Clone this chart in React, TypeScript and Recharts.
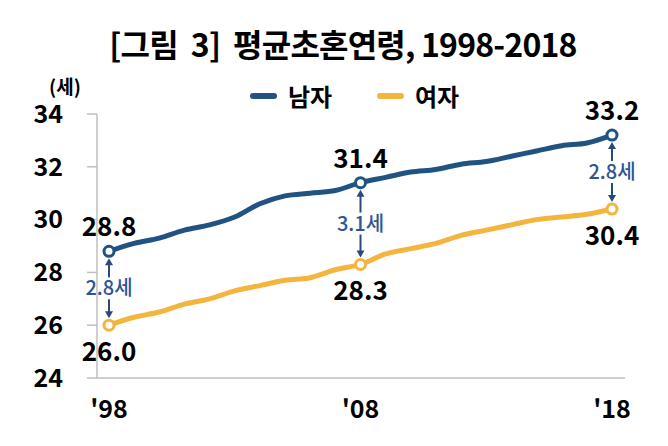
import React from 'react';
import { LineChart, Line, XAxis, YAxis, Legend, ReferenceLine, LabelList } from 'recharts';

const years = [1998, 1999, 2000, 2001, 2002, 2003, 2004, 2005, 2006, 2007, 2008, 2009, 2010, 2011, 2012, 2013, 2014, 2015, 2016, 2017, 2018];
const maleAge = [28.8, 29.1, 29.3, 29.6, 29.8, 30.1, 30.6, 30.9, 31.0, 31.1, 31.4, 31.6, 31.8, 31.9, 32.1, 32.2, 32.4, 32.6, 32.8, 32.9, 33.2];
const femaleAge = [26.0, 26.3, 26.5, 26.8, 27.0, 27.3, 27.5, 27.7, 27.8, 28.1, 28.3, 28.7, 28.9, 29.1, 29.4, 29.6, 29.8, 30.0, 30.1, 30.2, 30.4];
const markedYears = [1998, 2008, 2018];
const xTicks = [1998, 2008, 2018];
const xTickLabels = ["'98", "'08", "'18"];
const yTicks = [24, 26, 28, 30, 32, 34];
const seriesNames = ['남자', '여자'];
const titleText = '[그림  3]  평균초혼연령, 1998-2018';
const unitText = '(세)';
const unitSuffix = '세';

const MALE_COLOR = '#215382';
const FEMALE_COLOR = '#f4b53f';
const GAP_COLOR = '#2f5597';
const FONT = '"Noto Sans CJK KR", "Noto Sans", sans-serif';

const data = years.map((y, i) => ({ year: y, male: maleAge[i], female: femaleAge[i] }));

const makeDot = (color: string) => (props: any) => {
  const { cx, cy, payload, index } = props;
  if (!payload || markedYears.indexOf(payload.year) < 0) return <g key={`d-${index}`} />;
  return <circle key={`d-${index}`} cx={cx} cy={cy} r={5} fill="#fff" stroke={color} strokeWidth={3} />;
};

const makeValueLabel = (above: boolean) => (props: any) => {
  const { x, y, value, index } = props;
  if (markedYears.indexOf(years[index]) < 0) return <g key={`l-${index}`} />;
  const dy = above ? -15 : 36;
  return (
    <text key={`l-${index}`} x={x} y={y + dy} textAnchor="middle" fontSize={26} fontWeight="bold" fill="#000" fontFamily={FONT}>
      {value.toFixed(1)}
    </text>
  );
};

const GapLabel = (props: any) => {
  const vb = props.viewBox || {};
  const x = vb.x;
  const top = vb.y;
  const bottom = vb.y + vb.height;
  const mid = (top + bottom) / 2;
  const t1 = top + 7;
  const t2 = mid - 11;
  const b1 = mid + 11;
  const b2 = bottom - 7;
  const c = '#2b4a7c';
  return (
    <g>
      <line x1={x} y1={t1 + 5} x2={x} y2={t2} stroke={c} strokeWidth={2} />
      <polygon points={`${x},${t1} ${x - 4},${t1 + 7} ${x + 4},${t1 + 7}`} fill={c} />
      <line x1={x} y1={b1} x2={x} y2={b2 - 5} stroke={c} strokeWidth={2} />
      <polygon points={`${x},${b2} ${x - 4},${b2 - 7} ${x + 4},${b2 - 7}`} fill={c} />
      <text x={x} y={mid} dy="0.36em" textAnchor="middle" fontSize={20} fontWeight={500} fill={GAP_COLOR} fontFamily={FONT}>
        {props.text}
      </text>
    </g>
  );
};

const renderLegend = () => {
  const colors = [MALE_COLOR, FEMALE_COLOR];
  return (
    <div style={{ position: 'relative', height: 32, fontFamily: FONT }}>
      {seriesNames.map((n, i) => (
        <div key={n} style={{ position: 'absolute', left: 250 + i * 127, top: 0, height: 32, display: 'flex', alignItems: 'center' }}>
          <div style={{ width: 27, height: 6, borderRadius: 3, background: colors[i], marginRight: 11 }} />
          <span style={{ fontSize: 24, fontWeight: 'bold', color: '#000', lineHeight: '32px' }}>{n}</span>
        </div>
      ))}
    </div>
  );
};

export default function App() {
  return (
    <div style={{ position: 'absolute', left: 0, top: 0, width: 668, height: 446, background: '#fff', fontFamily: FONT }}>
      <div style={{ position: 'absolute', left: 9, top: 24, width: 668, textAlign: 'center', fontSize: 32, fontWeight: 'bold', lineHeight: '38px', color: '#000', letterSpacing: -0.8, whiteSpace: 'pre' }}>
        {titleText}
      </div>
      <div style={{ position: 'absolute', left: 49, top: 76, fontSize: 19, fontWeight: 'bold', lineHeight: '20px', color: '#000' }}>{unitText}</div>
      <LineChart width={668} height={446} data={data} margin={{ top: 114, right: 43, bottom: 0, left: 0 }}>
        <XAxis
          dataKey="year"
          type="number"
          domain={[1998, 2018]}
          ticks={xTicks}
          tickFormatter={(v: number) => xTickLabels[xTicks.indexOf(v)]}
          padding={{ left: 12, right: 13 }}
          height={68}
          tickLine={false}
          axisLine={{ stroke: '#bfbfbf', strokeWidth: 1.5 }}
          tickMargin={16}
          tick={{ fontSize: 25, fontWeight: 'bold', fill: '#000', fontFamily: FONT }}
        />
        <YAxis
          domain={[24, 34]}
          ticks={yTicks}
          width={97}
          tickSize={10}
          tickMargin={24}
          tickLine={{ stroke: '#bfbfbf', strokeWidth: 1.5 }}
          axisLine={{ stroke: '#bfbfbf', strokeWidth: 1.5 }}
          tick={{ fontSize: 25, fontWeight: 'bold', fill: '#000', fontFamily: FONT }}
          allowDataOverflow
        />
        <Legend layout="horizontal" verticalAlign="middle" align="center" wrapperStyle={{ top: 80, left: 0, width: 668, height: 32 }} content={renderLegend} />
        <Line type="monotone" dataKey="female" name={seriesNames[1]} stroke={FEMALE_COLOR} strokeWidth={5} dot={makeDot(FEMALE_COLOR)} activeDot={false} isAnimationActive={false}>
          <LabelList dataKey="female" content={makeValueLabel(false)} />
        </Line>
        <Line type="monotone" dataKey="male" name={seriesNames[0]} stroke={MALE_COLOR} strokeWidth={5} dot={makeDot(MALE_COLOR)} activeDot={false} isAnimationActive={false}>
          <LabelList dataKey="male" content={makeValueLabel(true)} />
        </Line>
        {markedYears.map((yr) => {
          const i = years.indexOf(yr);
          const gap = (maleAge[i] - femaleAge[i]).toFixed(1) + unitSuffix;
          return (
            <ReferenceLine
              key={yr}
              segment={[{ x: yr, y: femaleAge[i] }, { x: yr, y: maleAge[i] }]}
              stroke="none"
              label={(p: any) => <GapLabel {...p} text={gap} />}
            />
          );
        })}
      </LineChart>
    </div>
  );
}
